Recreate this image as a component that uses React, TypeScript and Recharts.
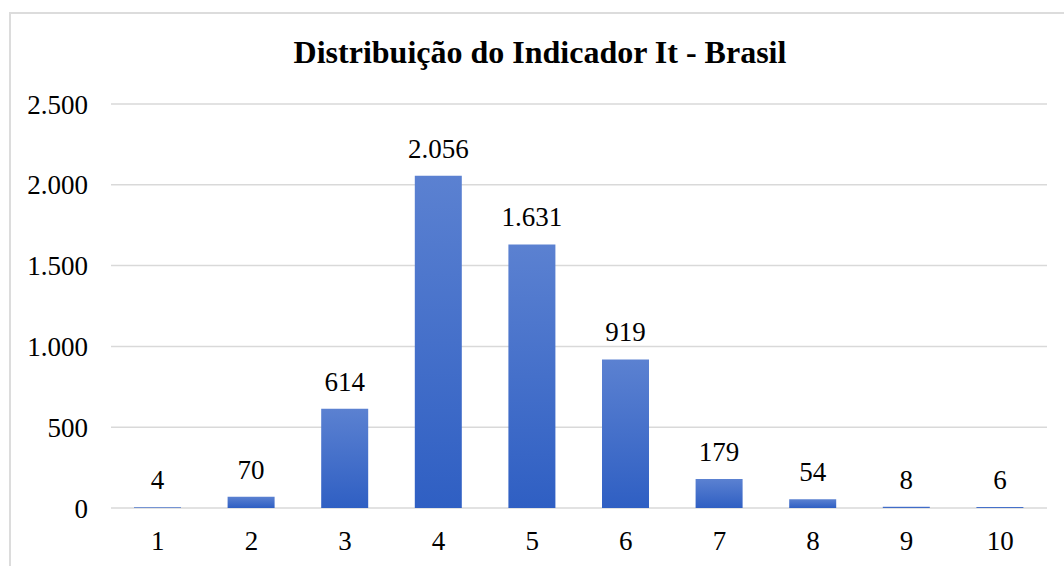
import { BarChart, Bar, XAxis, YAxis, CartesianGrid, LabelList } from "recharts"

const categories = ["1", "2", "3", "4", "5", "6", "7", "8", "9", "10"]
const counts = [4, 70, 614, 2056, 1631, 919, 179, 54, 8, 6]
const yTicks = [0, 500, 1000, 1500, 2000, 2500]

const TITLE = "Distribuição do Indicador It - Brasil"
const FONT = '"Liberation Serif", "Times New Roman", serif'

const ptNumber = new Intl.NumberFormat("pt-BR")
const fmt = (v: number | string) => (typeof v === "number" ? ptNumber.format(v) : String(v))

const chartData = categories.map((name, i) => ({ name, value: counts[i] }))

export default function App() {
  return (
    <div
      style={{
        position: "absolute",
        left: 0,
        top: 0,
        width: 1064,
        height: 566,
        overflow: "hidden",
        background: "#fff",
        fontFamily: FONT,
      }}
    >
      {/* chart box border, runs off the right and bottom */}
      <div
        style={{
          position: "absolute",
          left: 9,
          top: 12,
          width: 1200,
          height: 700,
          borderTop: "2px solid #dcdcdc",
          borderLeft: "2px solid #dcdcdc",
        }}
      />
      <div
        style={{
          position: "absolute",
          left: 0,
          top: 36,
          width: 1080,
          textAlign: "center",
          fontSize: 32,
          lineHeight: "32px",
          fontWeight: "bold",
          color: "#000",
        }}
      >
        {TITLE}
      </div>
      <div style={{ position: "absolute", left: 0, top: 0 }}>
        <BarChart
          width={1064}
          height={566}
          data={chartData}
          margin={{ top: 104, right: 17, bottom: 0, left: 31 }}
        >
          <defs>
            <linearGradient id="barFill" x1="0" y1="0" x2="0" y2="1">
              <stop offset="0%" stopColor="#5b81d1" />
              <stop offset="100%" stopColor="#2f5fc3" />
            </linearGradient>
          </defs>
          <CartesianGrid vertical={false} stroke="#d9d9d9" strokeWidth={1.5} />
          <XAxis
            dataKey="name"
            height={58}
            axisLine={false}
            tickLine={false}
            tickSize={0}
            tickMargin={23}
            tick={{ fill: "#000", fontSize: 27, fontFamily: FONT }}
          />
          <YAxis
            width={80}
            domain={[0, 2500]}
            ticks={yTicks}
            tickFormatter={fmt}
            axisLine={false}
            tickLine={false}
            tickSize={0}
            tickMargin={23}
            tick={{ fill: "#000", fontSize: 27, fontFamily: FONT }}
          />
          <Bar dataKey="value" fill="url(#barFill)" barSize={47} isAnimationActive={false}>
            <LabelList
              dataKey="value"
              position="top"
              offset={18}
              formatter={fmt}
              style={{ fill: "#000", fontSize: 27, fontFamily: FONT }}
            />
          </Bar>
        </BarChart>
      </div>
    </div>
  )
}
